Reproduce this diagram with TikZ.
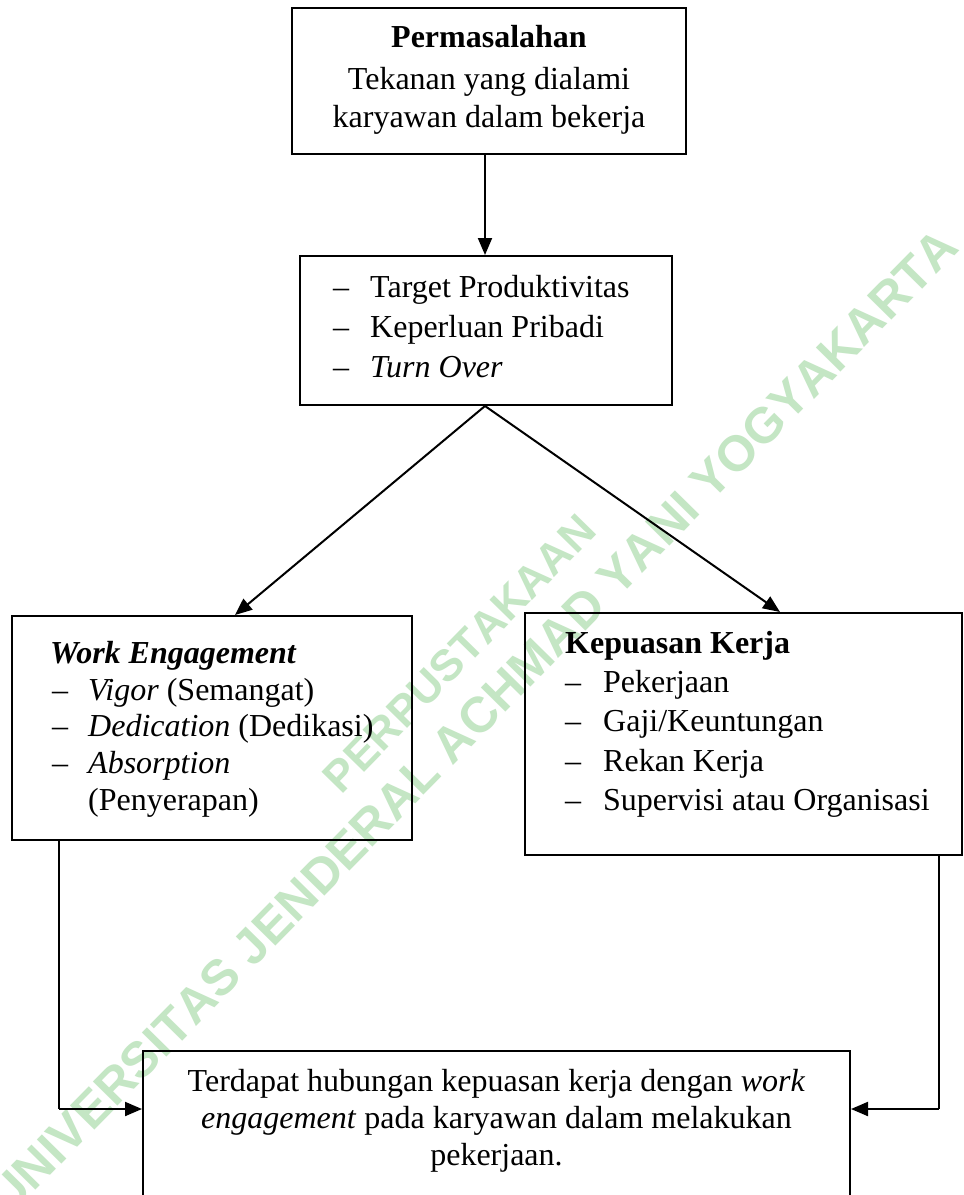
\documentclass[tikz,border=0pt]{standalone}
\usepackage{fontspec}
\setmainfont{Liberation Serif}
\newfontfamily\wmfam{Liberation Sans}
\usetikzlibrary{arrows.meta,calc,decorations.text}
\definecolor{wm}{RGB}{196,230,196}
\begin{document}
\begin{tikzpicture}[x=1pt,y=-1pt,
  box/.style={draw,line width=2pt,inner sep=0pt},
  txt/.style={inner sep=0pt,font=\fontsize{32}{38}\selectfont},
  conn/.style={line width=2pt},
  arr/.style={line width=2pt,-{Triangle[length=17pt,width=14pt]}}]
\useasboundingbox (0,0) rectangle (964,1195);
\fill[white] (0,0) rectangle (964,1195);
\clip (0,0) rectangle (964,1195);
% watermark
\path[decorate,decoration={text along path,text align=center,text color=wm,
  text={|\wmfam\bfseries\fontsize{50}{50}\selectfont|UNIVERSITAS JENDERAL ACHMAD YANI YOGYAKARTA}}]
  (-40,1267) -- (1010,200);
\path[decorate,decoration={text along path,text align=center,text color=wm,
  text={|\wmfam\bfseries\fontsize{44}{44}\selectfont|PERPUSTAKAAN}}]
  (330,807) -- (610,521);
% boxes
\node[box,minimum width=394pt,minimum height=146pt] (b1) at (489,81) {};
\node[box,minimum width=372pt,minimum height=149pt] (b2) at (486,330.5) {};
\node[box,minimum width=400pt,minimum height=224pt] (b3) at (212,728) {};
\node[box,minimum width=437pt,minimum height=242pt] (b4) at (743.5,734) {};
\node[box,minimum width=707pt,minimum height=200pt] (b5) at (496.5,1151) {};
% box 1 text
\node[txt,anchor=base] (t11) at (489,47) {\textbf{Permasalahan}};
\node[txt,anchor=base] (t12) at (489,89) {Tekanan yang dialami};
\node[txt,anchor=base] (t13) at (489,127) {karyawan dalam bekerja};
% box 2 text
\node[txt,anchor=base west] (d21) at (333,297) {–};
\node[txt,anchor=base west] (t21) at (370,297) {Target Produktivitas};
\node[txt,anchor=base west] (d22) at (333,337) {–};
\node[txt,anchor=base west] (t22) at (370,337) {Keperluan Pribadi};
\node[txt,anchor=base west] (d23) at (333,377) {–};
\node[txt,anchor=base west] (t23) at (370,377) {\textit{Turn Over}};
% box 3 text
\node[txt,anchor=base west] (t31) at (50,663) {\textbf{\textit{Work Engagement}}};
\node[txt,anchor=base west] (d32) at (52,700) {–};
\node[txt,anchor=base west] (t32) at (88,700) {\textit{Vigor} (Semangat)};
\node[txt,anchor=base west] (d33) at (52,736.5) {–};
\node[txt,anchor=base west] (t33) at (88,736.5) {\textit{Dedication} (Dedikasi)};
\node[txt,anchor=base west] (d34) at (52,773) {–};
\node[txt,anchor=base west] (t34) at (88,773) {\textit{Absorption}};
\node[txt,anchor=base west] (t35) at (88,810) {(Penyerapan)};
% box 4 text
\node[txt,anchor=base west] (t41) at (565,653) {\textbf{Kepuasan Kerja}};
\node[txt,anchor=base west] (d42) at (565,692) {–};
\node[txt,anchor=base west] (t42) at (603,692) {Pekerjaan};
\node[txt,anchor=base west] (d43) at (565,731.5) {–};
\node[txt,anchor=base west] (t43) at (603,731.5) {Gaji/Keuntungan};
\node[txt,anchor=base west] (d44) at (565,771) {–};
\node[txt,anchor=base west] (t44) at (603,771) {Rekan Kerja};
\node[txt,anchor=base west] (d45) at (565,810) {–};
\node[txt,anchor=base west] (t45) at (603,810) {Supervisi atau Organisasi};
% box 5 text
\node[txt,anchor=base] (t51) at (496.5,1091) {Terdapat hubungan kepuasan kerja dengan \textit{work}};
\node[txt,anchor=base] (t52) at (496.5,1128) {\textit{engagement} pada karyawan dalam melakukan};
\node[txt,anchor=base] (t53) at (496.5,1165) {pekerjaan.};
% connectors
\coordinate (c2) at ($(b2.south)+(-1,0)$);
\draw[arr] (b1.south -| c2) -- (b2.north -| c2);
\draw[arr] (c2) -- (b3.north -| 235,0);
\draw[arr] (c2) -- (b4.north -| 780,0);
\coordinate (l1) at (b3.south -| 59,0);
\coordinate (l2) at (59,1109);
\draw[conn] (l1) -- (l2);
\draw[arr] (l2) -- (b5.west |- l2);
\coordinate (r1) at (b4.south -| 938.7,0);
\coordinate (r2) at (938.7,1109);
\draw[conn] (r1) -- (r2);
\draw[arr] (r2) -- (b5.east |- r2);
\end{tikzpicture}
\end{document}
